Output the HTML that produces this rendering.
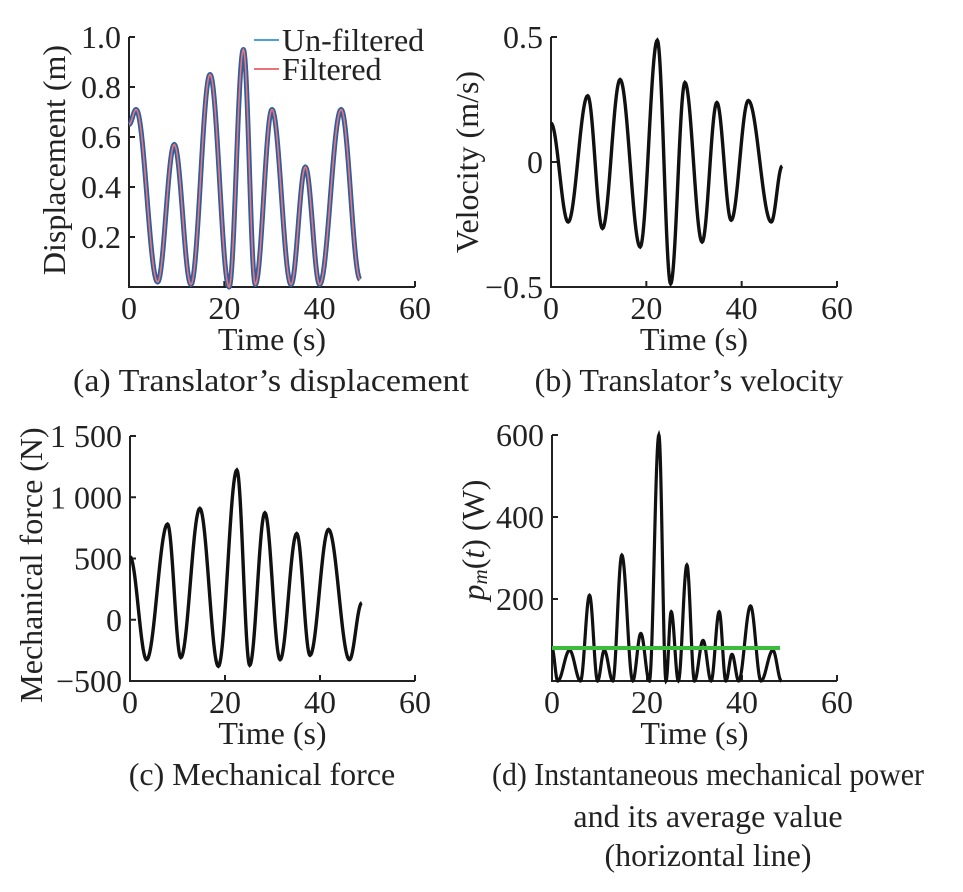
<!DOCTYPE html>
<html><head><meta charset="utf-8"><style>
body{margin:0;background:#fff;}
svg{display:block;font-family:"Liberation Serif",serif;fill:#222;}
text{font-size:32px;}
</style></head><body>
<svg id="fig" width="963" height="892" viewBox="0 0 963 892"></svg>
<script>
// Panel (a) displacement extrema
const dispT = [0, 1.5, 6, 9.5, 13, 17, 21, 24, 26.5, 30, 34, 37, 40, 44.5, 48.5];
const dispV = [0.65, 0.71, 0.02, 0.57, 0.01, 0.85, 0.0, 0.95, 0.01, 0.71, 0.01, 0.48, 0.01, 0.71, 0.03];
// Panel (b) velocity extrema
const velT = [0, 3.6, 7.7, 10.8, 14.5, 18.7, 22.3, 25.1, 28.1, 31.7, 34.8, 37.8, 41.4, 46.2, 48.5];
const velV = [0.155, -0.24, 0.265, -0.266, 0.33, -0.34, 0.487, -0.487, 0.318, -0.32, 0.238, -0.233, 0.246, -0.24, -0.016];
// Panel (c) force extrema
const forceT = [0, 3.5, 7.9, 10.7, 14.7, 18.6, 22.5, 25.2, 28.4, 31.6, 35.1, 37.9, 41.8, 46.2, 48.8];
const forceV = [514, -326, 781, -309, 909, -380, 1222, -371, 873, -326, 704, -290, 737, -326, 138];
// Panel (d) power: zeros and peaks
const powT = [0, 1.2, 3.7, 6.0, 7.9, 9.6, 11.0, 12.8, 14.7, 17.0, 18.7, 20.5, 22.5, 24.0, 25.1, 26.6, 28.4, 30.0, 31.8, 33.5, 35.2, 36.6, 37.9, 39.3, 41.8, 44.0, 46.5, 48.3];
const powV = [80, 0, 75, 0, 209, 0, 75, 0, 307, 0, 116, 0, 600, 0, 169, 0, 283, 0, 99, 0, 169, 0, 65, 0, 183, 0, 75, 0];
const powAvg = [80.6];
const powAvgRange = [0, 48.0];
const xTicks = [0, 20, 40, 60];
const dispTicks = [0.2, 0.4, 0.6, 0.8, 1.0];
const dispTickLabels = ["0.2", "0.4", "0.6", "0.8", "1.0"];
const velTicks = [-0.5, 0, 0.5];
const velTickLabels = ["\u22120.5", "0", "0.5"];
const forceTicks = [-500, 0, 500, 1000, 1500];
const forceTickLabels = ["\u2212500", "0", "500", "1 000", "1 500"];
const powTicks = [200, 400, 600];
const powTickLabels = ["200", "400", "600"];

const NS = "http://www.w3.org/2000/svg";
const svg = document.getElementById("fig");
function mk(tag, attrs, parent) {
  const e = document.createElementNS(NS, tag);
  for (const k in attrs) e.setAttribute(k, attrs[k]);
  (parent || svg).appendChild(e);
  return e;
}
function txt(s, x, y, anchor, parent) {
  const t = mk("text", {x: x, y: y, "text-anchor": anchor || "middle"}, parent);
  t.textContent = s;
  return t;
}
function pathFrom(T, V, sx, sy) {
  let d = "";
  for (let i = 0; i < T.length - 1; i++) {
    const n = 24;
    for (let k = 0; k <= n; k++) {
      if (i > 0 && k === 0) continue;
      const f = k / n, w = (1 - Math.cos(Math.PI * f)) / 2;
      const t = T[i] + (T[i + 1] - T[i]) * f;
      const v = V[i] + (V[i + 1] - V[i]) * w;
      d += (d ? "L" : "M") + sx(t).toFixed(2) + "," + sy(v).toFixed(2);
    }
  }
  return d;
}
function panel(cfg) {
  const g = mk("g", {});
  
  
  const sx = t => cfg.x0 + (t - 0) / 60 * (cfg.x1 - cfg.x0);
  const sy = v => cfg.yb - (v - cfg.ymin) / (cfg.ymax - cfg.ymin) * (cfg.yb - cfg.yt);
  const ax = mk("path", {d: `M${cfg.x0},${cfg.yt}V${cfg.yb}H${cfg.x1}`, fill: "none", stroke: "#222", "stroke-width": 2}, g);
  
  
  xTicks.forEach(t => {
    const tk = mk("line", {x1: sx(t), x2: sx(t), y1: cfg.yb, y2: cfg.yb - 6, stroke: "#222", "stroke-width": 2}, g);
    
    
    const l = txt(String(t), sx(t), cfg.yb + 32, "middle", g);
    
    
  });
  cfg.ticks.forEach((v, i) => {
    const tk = mk("line", {x1: cfg.x0, x2: cfg.x0 + 6, y1: sy(v), y2: sy(v), stroke: "#222", "stroke-width": 2}, g);
    
    
    const l = txt(cfg.labels[i], cfg.x0 - 8, sy(v) + 11, "end", g);
    
    
  });
  const xt = txt("Time (s)", (cfg.x0 + cfg.x1) / 2, cfg.yb + 63, "middle", g);
  
  
  return {g, sx, sy};
}
function ytitle(parts, x, y, name) {
  const t = mk("text", {x: 0, y: 0, "text-anchor": "middle", "dominant-baseline": "central", transform: `translate(${x},${y}) rotate(-90)`});
  
  
  parts.forEach(p => {
    const s = mk("tspan", p.a || {}, t);
    s.textContent = p.s;
  });
}
function caption(s, x, y, len) {
  const c = txt(s, x, y, "middle");
  if (len) { c.setAttribute("textLength", len); c.setAttribute("lengthAdjust", "spacingAndGlyphs"); }
  
  
}

// (a)
const A = panel({name: "panel-a-displacement", x0: 129, x1: 415, yt: 37, yb: 287, ymin: 0, ymax: 1.0, ticks: dispTicks, labels: dispTickLabels});
const ua = mk("path", {d: pathFrom(dispT, dispV, A.sx, A.sy), fill: "none", stroke: "#2b5f9e", "stroke-width": 5, "stroke-linejoin": "round"}, A.g);


const fa = mk("path", {d: pathFrom(dispT, dispV, A.sx, A.sy), fill: "none", stroke: "#e9747a", "stroke-width": 1.6}, A.g);


const lg = mk("g", {}, A.g);


const l1 = mk("line", {x1: 254, x2: 279, y1: 40, y2: 40, stroke: "#4aa0d8", "stroke-width": 2}, lg);


const lt1 = txt("Un-filtered", 282, 51, "start", lg);


const l2 = mk("line", {x1: 254, x2: 279, y1: 69, y2: 69, stroke: "#e9747a", "stroke-width": 2}, lg);


const lt2 = txt("Filtered", 282, 80, "start", lg);


ytitle([{s: "Displacement (m)"}], 54, 160, "y-axis-title-displacement");
caption("(a) Translator\u2019s displacement", 271, 391, 396);

// (b)
const B = panel({name: "panel-b-velocity", x0: 551, x1: 837, yt: 37, yb: 287, ymin: -0.5, ymax: 0.5, ticks: velTicks, labels: velTickLabels});
const vb = mk("path", {d: pathFrom(velT, velV, B.sx, B.sy), fill: "none", stroke: "#111", "stroke-width": 3.4}, B.g);


ytitle([{s: "Velocity (m/s)"}], 467, 162, "y-axis-title-velocity");
caption("(b) Translator\u2019s velocity", 689, 391);

// (c)
const C = panel({name: "panel-c-force", x0: 130, x1: 415, yt: 436, yb: 681, ymin: -500, ymax: 1500, ticks: forceTicks, labels: forceTickLabels});
const fc = mk("path", {d: pathFrom(forceT, forceV, C.sx, C.sy), fill: "none", stroke: "#111", "stroke-width": 3.4}, C.g);


ytitle([{s: "Mechanical force (N)"}], 31, 565, "y-axis-title-force");
caption("(c) Mechanical force", 262, 785);

// (d)
const D = panel({name: "panel-d-power", x0: 552, x1: 837, yt: 435, yb: 681, ymin: 0, ymax: 600, ticks: powTicks, labels: powTickLabels});
const pd = mk("path", {d: pathFrom(powT, powV, D.sx, D.sy), fill: "none", stroke: "#111", "stroke-width": 3.2}, D.g);


const av = mk("line", {x1: D.sx(powAvgRange[0]), x2: D.sx(powAvgRange[1]), y1: D.sy(powAvg[0]), y2: D.sy(powAvg[0]), stroke: "#3dbb3d", "stroke-width": 4}, D.g);


ytitle([{s: "p", a: {"font-style": "italic"}}, {s: "m", a: {"font-style": "italic", "font-size": "21px", dy: "7"}}, {s: "(", a: {dy: "-7"}}, {s: "t", a: {"font-style": "italic"}}, {s: ") (W)"}], 473, 540, "y-axis-title-power");
caption("(d) Instantaneous mechanical power", 708, 785, 432);
caption("and its average value", 708, 827);
caption("(horizontal line)", 708, 866);
</script>
</body></html>
